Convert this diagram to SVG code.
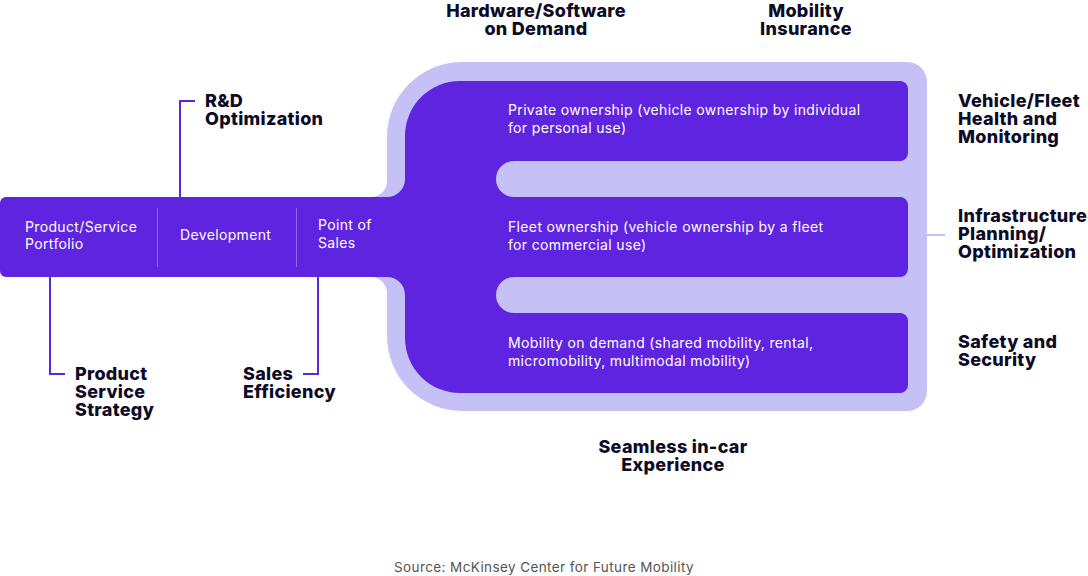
<svg xmlns="http://www.w3.org/2000/svg" width="1088" height="576" viewBox="0 0 1088 576">
<style>
.dark{fill:#5F24E0}
.light{fill:#C5C1F7}
.conn{fill:none;stroke:#5F24E0;stroke-width:2}
.lconn{fill:none;stroke:#C5C1F7;stroke-width:2}
.t{font-family:Inter,"Noto Sans","Liberation Sans",sans-serif;font-size:18px;font-weight:800;fill:#0D0B26;letter-spacing:0.3px}
.w{font-family:Inter,"Noto Sans","Liberation Sans",sans-serif;font-size:14px;font-weight:400;fill:#FFFFFF;letter-spacing:0.35px}
.src{font-family:Inter,"Noto Sans","Liberation Sans",sans-serif;font-size:13.5px;fill:#555555;letter-spacing:0.4px}
.div{stroke:#8C6AEC;stroke-width:1}
</style>
<rect width="1088" height="576" fill="#FFFFFF"/>
<g id="outer-frame">
<path class="light" d="M462,62 H907 A20,20 0 0 1 927,82 V391 A20,20 0 0 1 907,411 H462 A75,75 0 0 1 387,336 V137 A75,75 0 0 1 462,62 Z"/>
<path class="light" d="M371,197 A16,16 0 0 0 387,181 L387,197 Z"/>
<path class="light" d="M371,277 A16,16 0 0 1 387,293 L387,277 Z"/>
</g>
<g id="ownership-block">
<path class="dark" d="M460,81 H900 A8,8 0 0 1 908,89 V153 A8,8 0 0 1 900,161 H514 A18,18 0 0 0 514,197 H900 A8,8 0 0 1 908,205 V269 A8,8 0 0 1 900,277 H514 A18,18 0 0 0 514,313 H900 A8,8 0 0 1 908,321 V385 A8,8 0 0 1 900,393 H460 A55,55 0 0 1 405,338 V136 A55,55 0 0 1 460,81 Z"/>
<path class="dark" d="M387,197 A18,18 0 0 0 405,179 L405,197 Z"/>
<path class="dark" d="M387,277 A18,18 0 0 1 405,295 L405,277 Z"/>
</g>
<g id="value-chain-bar">
<rect class="dark" x="0" y="197" width="420" height="80" rx="6"/>
<line class="div" x1="157.5" y1="208" x2="157.5" y2="267"/>
<line class="div" x1="296.5" y1="208" x2="296.5" y2="267"/>
</g>
<g id="connectors">
<path class="conn" d="M180,197 V101 H195"/>
<path class="conn" d="M50,277 V374 H65"/>
<path class="conn" d="M318,277 V374 H303"/>
<path class="lconn" d="M927,235 H945"/>
</g>
<g id="node-product-service-portfolio">
<text class="w" x="25" y="232">Product/Service</text>
<text class="w" x="25" y="249">Portfolio</text>
</g>
<g id="node-development">
<text class="w" x="180" y="240">Development</text>
</g>
<g id="node-point-of-sales">
<text class="w" x="318" y="230">Point of</text>
<text class="w" x="318" y="248">Sales</text>
</g>
<g id="node-private-ownership">
<text class="w" x="508" y="115">Private ownership (vehicle ownership by individual</text>
<text class="w" x="508" y="133">for personal use)</text>
</g>
<g id="node-fleet-ownership">
<text class="w" x="508" y="232">Fleet ownership (vehicle ownership by a fleet</text>
<text class="w" x="508" y="250">for commercial use)</text>
</g>
<g id="node-mobility-on-demand">
<text class="w" x="508" y="348">Mobility on demand (shared mobility, rental,</text>
<text class="w" x="508" y="366">micromobility, multimodal mobility)</text>
</g>
<g id="label-rd-optimization">
<text class="t" x="205" y="107">R&amp;D</text>
<text class="t" x="205" y="125">Optimization</text>
</g>
<g id="label-product-service-strategy">
<text class="t" x="75" y="380">Product</text>
<text class="t" x="75" y="398">Service</text>
<text class="t" x="75" y="416">Strategy</text>
</g>
<g id="label-sales-efficiency">
<text class="t" x="243" y="380">Sales</text>
<text class="t" x="243" y="398">Efficiency</text>
</g>
<g id="label-hardware-software" text-anchor="middle">
<text class="t" x="536" y="17">Hardware/Software</text>
<text class="t" x="536" y="35">on Demand</text>
</g>
<g id="label-mobility-insurance" text-anchor="middle">
<text class="t" x="806" y="17">Mobility</text>
<text class="t" x="806" y="35">Insurance</text>
</g>
<g id="label-vehicle-fleet-health">
<text class="t" x="958" y="107">Vehicle/Fleet</text>
<text class="t" x="958" y="125">Health and</text>
<text class="t" x="958" y="143">Monitoring</text>
</g>
<g id="label-infrastructure">
<text class="t" x="958" y="222">Infrastructure</text>
<text class="t" x="958" y="240">Planning/</text>
<text class="t" x="958" y="258">Optimization</text>
</g>
<g id="label-safety-security">
<text class="t" x="958" y="348">Safety and</text>
<text class="t" x="958" y="366">Security</text>
</g>
<g id="label-seamless" text-anchor="middle">
<text class="t" x="673" y="453">Seamless in-car</text>
<text class="t" x="673" y="471">Experience</text>
</g>
<text class="src" x="544" y="572" text-anchor="middle">Source: McKinsey Center for Future Mobility</text>
</svg>
